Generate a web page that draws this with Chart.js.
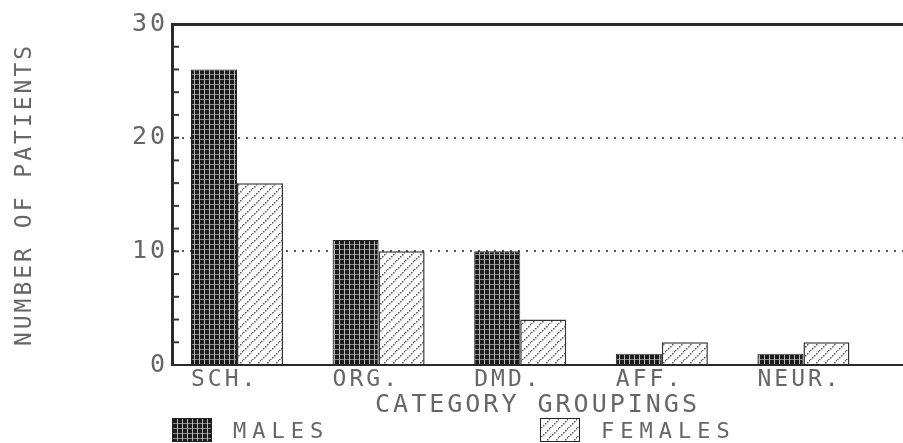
<!DOCTYPE html>
<html>
<head>
<meta charset="utf-8">
<script src="https://cdn.jsdelivr.net/npm/chart.js@4"></script>
<style>
body { margin: 0; background: #fff; }
#wrap { position: relative; width: 903px; height: 443px; }
.key { position: absolute; top: 418px; height: 24px; display: flex; align-items: center;
       font: 22px 'DejaVu Sans Mono', monospace; letter-spacing: 6px; color: #666; }
.key canvas { margin-right: 21px; border: 1px solid #222; }
</style>
</head>
<body>
<div id="wrap">
  <canvas id="graph"></canvas>
  <div class="key" style="left:172px"><canvas id="boxM" width="38" height="22"></canvas>MALES</div>
  <div class="key" style="left:540px"><canvas id="boxF" width="38" height="22"></canvas>FEMALES</div>
</div>
<script>
const categories = ['SCH.', 'ORG.', 'DMD.', 'AFF.', 'NEUR.'];
const males = [26, 11, 10, 1, 1];
const females = [16, 10, 4, 2, 2];
const yTicks = [0, 10, 20, 30];

const textColor = '#666';
const mono = 'DejaVu Sans Mono';

// dark cross-hatched fill for males
function malePattern(ctx) {
    const tile = document.createElement('canvas');
    tile.width = 5; tile.height = 5;
    const g = tile.getContext('2d');
    g.fillStyle = '#1c1c1c'; g.fillRect(0, 0, 5, 5);
    g.fillStyle = '#b5b5b5'; g.fillRect(4, 0, 1, 5);
    g.fillStyle = '#8a8a8a'; g.fillRect(0, 4, 4, 1);
    return ctx.createPattern(tile, 'repeat');
}

// dotted diagonal hatch for females
function femalePattern(ctx) {
    const tile = document.createElement('canvas');
    tile.width = 9; tile.height = 9;
    const g = tile.getContext('2d');
    g.fillStyle = '#fff'; g.fillRect(0, 0, 9, 9);
    g.fillStyle = '#555';
    for (let i = 0; i < 9; i += 2) g.fillRect(i, 8 - i, 1.5, 1.5);
    return ctx.createPattern(tile, 'repeat');
}

function fillBox(id, makePattern) {
    const c = document.getElementById(id);
    const g = c.getContext('2d');
    g.fillStyle = makePattern(g);
    g.fillRect(0, 0, c.width, c.height);
}
fillBox('boxM', malePattern);
fillBox('boxF', femalePattern);

const letterSpacing = {
    id: 'letterSpacing',
    beforeUpdate(chart) { chart.ctx.letterSpacing = '3px'; },
    beforeDraw(chart) { chart.ctx.letterSpacing = '3px'; }
};

const minorTicks = {
    id: 'minorTicks',
    afterDatasetsDraw(chart) {
        const { ctx, chartArea, scales: { y } } = chart;
        ctx.save();
        ctx.strokeStyle = '#333';
        ctx.lineWidth = 2;
        for (let v = 2; v < 30; v += 2) {
            const py = y.getPixelForValue(v);
            ctx.beginPath();
            ctx.moveTo(chartArea.left, py);
            ctx.lineTo(chartArea.left + 7, py);
            ctx.stroke();
        }
        ctx.restore();
    }
};

const canvasCtx = document.getElementById('graph').getContext('2d');
const xMin = -0.459, xMax = 4.703;

const config = {
    type: 'bar',
    data: {
        datasets: [
            {
                label: 'MALES',
                data: males.map((v, i) => ({ x: i, y: v })),
                backgroundColor: malePattern(canvasCtx),
                borderColor: '#222',
                borderWidth: 1,
                categoryPercentage: 0.65,
                barPercentage: 1
            },
            {
                label: 'FEMALES',
                data: females.map((v, i) => ({ x: i, y: v })),
                backgroundColor: femalePattern(canvasCtx),
                borderColor: '#333',
                borderWidth: 1.5,
                categoryPercentage: 0.65,
                barPercentage: 1
            }
        ]
    },
    options: {
        responsive: true,
        maintainAspectRatio: false,
        animation: false,
        layout: { padding: { left: 0, right: 0, top: 24, bottom: 23 } },
        plugins: {
            legend: { display: false },
            tooltip: { enabled: false }
        },
        scales: {
            x: {
                type: 'linear',
                offset: false,
                min: xMin,
                max: xMax,
                afterBuildTicks: s => { s.ticks = categories.map((c, i) => ({ value: i })); },
                afterFit: s => { s.height = 55; },
                grid: { display: false, drawTicks: false, offset: false },
                border: { display: true, color: '#2a2a2a', width: 2 },
                ticks: {
                    callback: v => categories[v],
                    align: 'start',
                    labelOffset: -46,
                    padding: 1,
                    autoSkip: false,
                    maxRotation: 0,
                    color: textColor,
                    font: { family: mono, size: 23 }
                },
                title: {
                    display: true,
                    text: 'CATEGORY GROUPINGS',
                    color: textColor,
                    padding: { top: 0, bottom: 0 },
                    font: { family: mono, size: 25 }
                }
            },
            xTop: {
                type: 'linear',
                position: 'top',
                offset: false,
                min: xMin,
                max: xMax,
                afterFit: s => { s.height = 0; },
                grid: { display: false, drawTicks: false },
                ticks: { display: false },
                border: { display: true, color: '#2a2a2a', width: 3 }
            },
            y: {
                min: 0,
                max: 30,
                afterBuildTicks: s => { s.ticks = yTicks.map(v => ({ value: v })); },
                afterFit: s => { s.width = 172; },
                grid: {
                    color: c => (c.tick && (c.tick.value === 10 || c.tick.value === 20)) ? '#555' : 'rgba(0,0,0,0)',
                    lineWidth: 2,
                    drawTicks: false
                },
                border: { display: true, color: '#2a2a2a', width: 3, dash: [2, 6] },
                ticks: {
                    padding: 4,
                    color: textColor,
                    font: { family: mono, size: 25 }
                },
                title: {
                    display: true,
                    text: 'NUMBER OF PATIENTS',
                    color: textColor,
                    padding: { top: 11, bottom: 0 },
                    font: { family: mono, size: 23 }
                }
            }
        }
    },
    plugins: [letterSpacing, minorTicks]
};

const myChart = new Chart(canvasCtx, config);
</script>
</body>
</html>
